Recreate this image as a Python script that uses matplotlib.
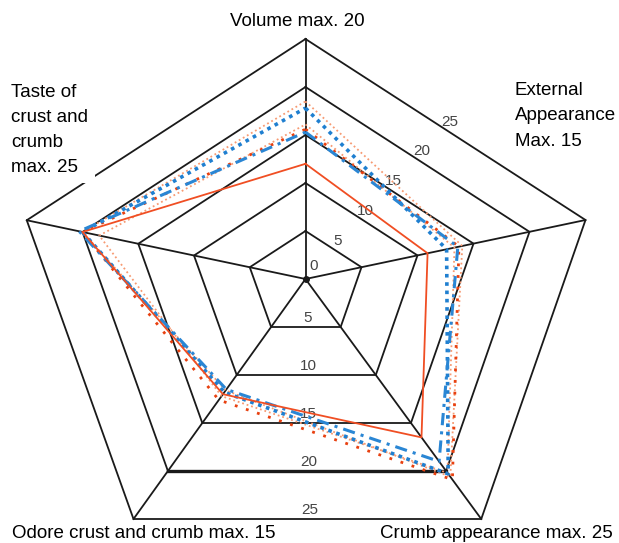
import numpy as np
import matplotlib
matplotlib.use("Agg")
import matplotlib.pyplot as plt

plt.rcParams['font.family'] = ['Liberation Sans', 'DejaVu Sans']

# axes: Volume, External appearance, Crumb appearance, Odore, Taste
axis_labels = ["Volume max. 20",
               "External\nAppearance\nMax. 15",
               "Crumb appearance max. 25",
               "Odore crust and crumb max. 15",
               "Taste of\ncrust and\ncrumb\nmax. 25"]
rings = [5, 10, 15, 20, 25]

orange_solid = [12.0, 10.9, 16.5, 12.0, 20.0]
orange_fine = [18.5, 14.0, 20.6, 11.6, 20.0]
orange_dots = [15.6, 13.7, 20.9, 12.6, 20.0]
orange_fine2 = [16.1, 13.3, 20.2, 12.2, 18.5]
blue_dots = [17.8, 12.6, 20.3, 11.8, 20.0]
blue_dashdot = [15.3, 13.6, 19.0, 11.5, 20.3]

# the printed web is not a regular pentagon: pixel step per unit on each spoke
cx, cy = 305.5, 279.0
dirs = np.array([[0.0, -9.6],
                 [11.2, -2.36],
                 [7.03, 9.6],
                 [-6.88, 9.6],
                 [-11.15, -2.35]])


def pts(vals):
    v = np.asarray(vals, dtype=float)[:, None]
    p = np.array([cx, cy]) + v * dirs
    return np.vstack([p, p[:1]])


fig = plt.figure(figsize=(6.19, 5.43), dpi=100)
ax = fig.add_axes([0, 0, 1, 1])
ax.set_xlim(0, 619)
ax.set_ylim(543, 0)
ax.axis('off')

for r in rings:
    p = pts([r] * 5)
    ax.plot(p[:, 0], p[:, 1], color='#1a1a1a', lw=1.3, zorder=1)
for i in range(5):
    p = pts([25] * 5)
    ax.plot([cx, p[i, 0]], [cy, p[i, 1]], color='#1a1a1a', lw=1.3, zorder=1)
p20 = pts([20] * 5)
ax.plot(p20[2:4, 0], p20[2:4, 1], color='#1a1a1a', lw=2.4, zorder=1)
ax.plot([cx], [cy], 'o', color='#1a1a1a', ms=4, zorder=5)

# scale labels
ax.text(cx + 8, cy - 13, "0", fontsize=11, color='#444444', ha='center', va='center')
for r in rings:
    p = pts([r] * 5)
    mx, my = (p[0] + p[1]) / 2
    ax.text(mx + 4, my - 8, str(r), fontsize=11, color='#444444', ha='center', va='center')
    bx, by = (p[2] + p[3]) / 2
    ax.text(bx + 2, by - 9, str(r), fontsize=11, color='#444444', ha='center', va='center')

styles = [
    (orange_fine, dict(color='#f79a72', lw=1.3, ls=(0, (1, 1.6)))),
    (orange_fine2, dict(color='#f79a72', lw=1.3, ls=(0, (1, 1.6)))),
    (orange_dots, dict(color='#e8400f', lw=2.0, ls=(0, (1, 3.2)))),
    (blue_dots, dict(color='#1f7fd0', lw=2.6, ls=(0, (1, 1.3)))),
    (blue_dashdot, dict(color='#2a86d4', lw=2.2, ls=(0, (4, 2, 1, 2)))),
    (orange_solid, dict(color='#f04e23', lw=1.3, ls='-')),
]
for vals, st in styles:
    p = pts(vals)
    ax.plot(p[:, 0], p[:, 1], zorder=3, **st)

fs = 13.5
ax.text(297, 21, axis_labels[0], fontsize=fs, ha='center', va='center')
ax.text(515, 116, axis_labels[1], fontsize=fs, ha='left', va='center', linespacing=1.62)
ax.text(613, 533, axis_labels[2], fontsize=fs, ha='right', va='center')
ax.text(12, 533, axis_labels[3], fontsize=fs, ha='left', va='center')
ax.text(11, 130, axis_labels[4], fontsize=fs, ha='left', va='center', linespacing=1.62,
        bbox=dict(facecolor='white', edgecolor='none', pad=5), zorder=4)

fig.savefig("out.png", dpi=100)
